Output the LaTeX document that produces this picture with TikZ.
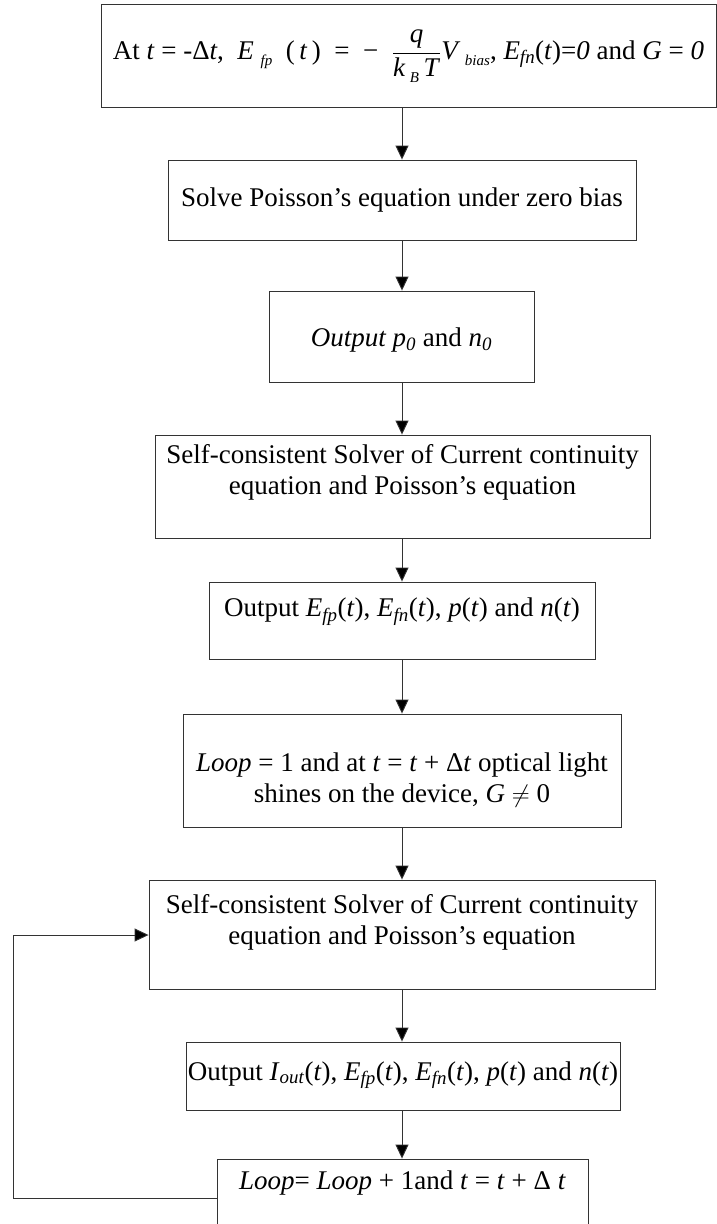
\documentclass[tikz,border=0pt]{standalone}
\usepackage{fontspec}
\setmainfont{Liberation Serif}
\usetikzlibrary{arrows.meta}
\tikzset{
  box/.style={draw=black!80, line width=0.9pt, rectangle, inner sep=0pt},
  txt/.style={inner sep=0pt, align=center, font=\fontsize{27}{31}\selectfont},
  arr/.style={draw=black!80, line width=0.9pt, -{Triangle[length=14pt,width=13pt,fill=black]}}
}
\newcommand{\iv}[1]{\textit{#1}}
\newcommand{\lsub}[1]{\raisebox{-6pt}{\fontsize{15}{15}\selectfont\textit{#1}}}
\begin{document}
\begin{tikzpicture}[x=1pt,y=-1pt]
\useasboundingbox (0,0) rectangle (717,1224);
% boxes
\node[box, minimum width=615pt, minimum height=103pt] (b1) at (408.5,55.5) {};
\node[box, minimum width=468pt, minimum height=80pt]  (b2) at (402,200) {};
\node[box, minimum width=265pt, minimum height=91pt]  (b3) at (401.5,336.5) {};
\node[box, minimum width=495pt, minimum height=103pt] (b4) at (402.5,486.5) {};
\node[box, minimum width=386pt, minimum height=77pt]  (b5) at (402,620.5) {};
\node[box, minimum width=438pt, minimum height=113pt] (b6) at (402,770.5) {};
\node[box, minimum width=506pt, minimum height=109pt] (b7) at (402,934.5) {};
\node[box, minimum width=434pt, minimum height=68pt]  (b8) at (403,1076) {};
\node[box, minimum width=371pt, minimum height=68pt]  (b9) at (402.5,1193) {};
% texts
\node[txt] (t1) at (408.5,56) {At \iv{t} = -Δ\iv{t},\ \ \iv{E}\ \lsub{fp}\ \ (\,\iv{t}\,) \ = \ − \ ${\displaystyle\frac{\mbox{\iv{q}}}{\mbox{\iv{k}\,\lsub{B}\,\iv{T}}}}$\iv{V}\,\lsub{bias}, \iv{E}\textsubscript{\iv{fn}}(\iv{t})=\iv{0} and \iv{G} = \iv{0}};
\node[txt] (t2) at (402,200) {Solve Poisson’s equation under zero bias};
\node[txt] (t3) at (401.5,340) {\iv{Output p\textsubscript{0}} and \iv{n\textsubscript{0}}};
\node[txt] (t4) at (402.5,472) {Self-consistent Solver of Current continuity\\equation and Poisson’s equation};
\node[txt] (t5) at (402,612) {Output \iv{E}\textsubscript{\iv{fp}}(\iv{t}), \iv{E}\textsubscript{\iv{fn}}(\iv{t}), \iv{p}(\iv{t}) and \iv{n}(\iv{t})};
\node[txt] (t6) at (402,780) {\iv{Loop} = 1 and at \iv{t} = \iv{t} + Δ\iv{t} optical light\\shines on the device, \iv{G} $\neq$ 0};
\node[txt] (t7) at (402,922) {Self-consistent Solver of Current continuity\\equation and Poisson’s equation};
\node[txt] (t8) at (403,1075) {Output \iv{I}\textsubscript{\iv{out}}(\iv{t}), \iv{E}\textsubscript{\iv{fp}}(\iv{t}), \iv{E}\textsubscript{\iv{fn}}(\iv{t}), \iv{p}(\iv{t}) and \iv{n}(\iv{t})};
\node[txt] (t9) at (402.5,1183) {\iv{Loop}= \iv{Loop} + 1and \iv{t} = \iv{t} + Δ \iv{t}};
% arrows
\draw[arr] (b2.north |- b1.south) -- (b2.north);
\draw[arr] (b2.south) -- (b3.north -| b2.south);
\draw[arr] (b2.south |- b3.south) -- (b4.north -| b2.south);
\draw[arr] (b2.south |- b4.south) -- (b5.north);
\draw[arr] (b5.south) -- (b6.north);
\draw[arr] (b6.south) -- (b7.north);
\draw[arr] (b7.south) -- (b8.north -| b7.south);
\draw[arr] (b7.south |- b8.south) -- (b9.north -| b7.south);
% feedback loop
\coordinate (l1) at (13,1198);
\coordinate (l2) at (13,935);
\draw[arr] (b9.west |- l1) -- (l1) -- (l2) -- (l2 -| b7.west);
\end{tikzpicture}
\end{document}
